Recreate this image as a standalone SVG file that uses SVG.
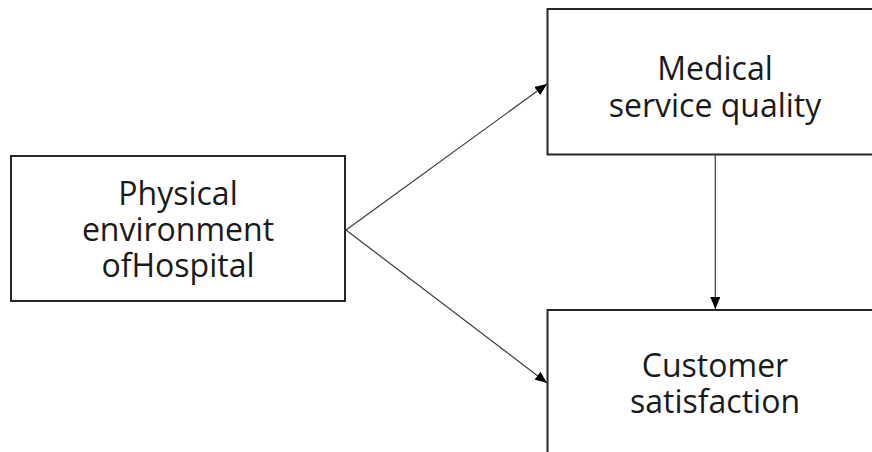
<svg xmlns="http://www.w3.org/2000/svg" width="872" height="452" viewBox="0 0 872 452">
<style>
.box{fill:#fff;stroke:#262626;stroke-width:2}
.lbl{font-family:"Open Sans","Noto Sans",sans-serif;font-size:32px;fill:#1a1a1a;text-anchor:middle}
.edge{stroke:#3a3a3a;stroke-width:1.2;fill:none;marker-end:url(#arr)}
</style>
<defs>
<marker id="arr" viewBox="0 0 12 10" refX="12" refY="5" markerWidth="12" markerHeight="10" markerUnits="userSpaceOnUse" orient="auto">
<path d="M0,0 L12,5 L0,10 Z" fill="#000"/>
</marker>
</defs>
<rect width="872" height="452" fill="#fff"/>
<g id="n-physical">
<rect class="box" x="11" y="156" width="334" height="145"/>
<text class="lbl" x="178" y="205"><tspan x="178">Physical</tspan><tspan x="178" dy="36">environment</tspan><tspan x="178" dy="36">ofHospital</tspan></text>
</g>
<g id="n-medical">
<rect class="box" x="547.5" y="9" width="336" height="145.5"/>
<text class="lbl" x="715" y="80"><tspan x="715">Medical</tspan><tspan x="715" dy="37">service quality</tspan></text>
</g>
<g id="n-customer">
<rect class="box" x="547.5" y="310" width="336" height="150"/>
<text class="lbl" x="715" y="377"><tspan x="715">Customer</tspan><tspan x="715" dy="36">satisfaction</tspan></text>
</g>
<g id="connectors">
<line class="edge" x1="346" y1="230" x2="547" y2="84"/>
<line class="edge" x1="346" y1="230" x2="547" y2="383"/>
<line class="edge" x1="715.3" y1="155" x2="715.3" y2="309"/>
</g>
</svg>
